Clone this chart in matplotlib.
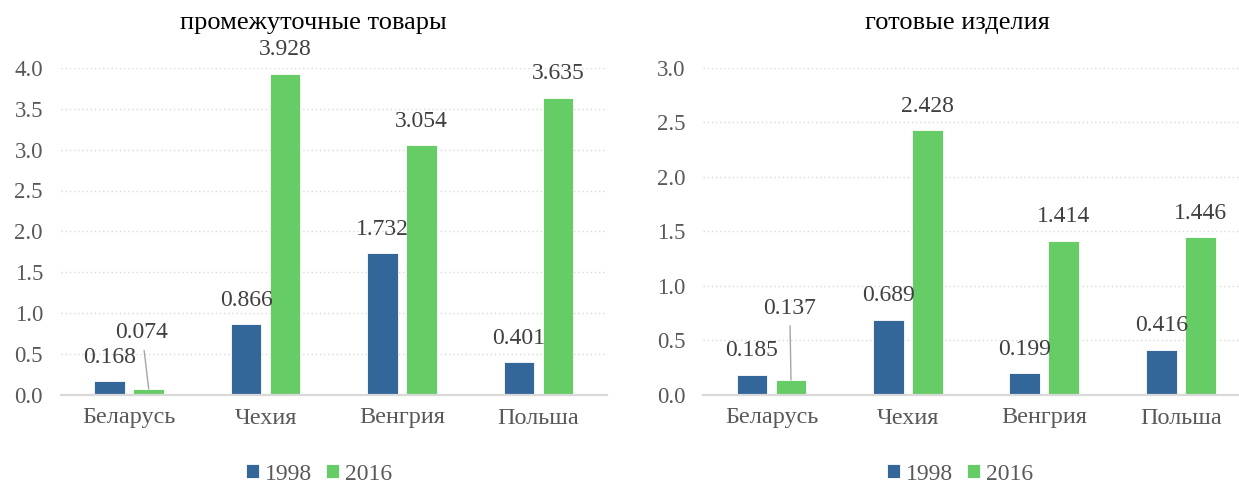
import matplotlib
matplotlib.use("Agg")
import matplotlib.pyplot as plt
import numpy as np

categories = ["Беларусь", "Чехия", "Венгрия", "Польша"]
years = ["1998", "2016"]
inter_1998 = [0.168, 0.866, 1.732, 0.401]
inter_2016 = [0.074, 3.928, 3.054, 3.635]
final_1998 = [0.185, 0.689, 0.199, 0.416]
final_2016 = [0.137, 2.428, 1.414, 1.446]
titles = ["промежуточные товары", "готовые изделия"]
y_ticks_left = [0.0, 0.5, 1.0, 1.5, 2.0, 2.5, 3.0, 3.5, 4.0]
y_ticks_right = [0.0, 0.5, 1.0, 1.5, 2.0, 2.5, 3.0]

plt.rcParams['font.family'] = ['Liberation Serif', 'DejaVu Serif']

BLUE = "#336699"
GREEN = "#66CC66"
GRID = "#D9D9D9"
TICK_C = "#595959"
LAB_C = "#404040"

W, H = 1239, 484
fig = plt.figure(figsize=(W / 100, H / 100), dpi=100)

def px_ax(x0, y_bottom, w, h):
    return fig.add_axes([x0 / W, 1 - y_bottom / H, w / W, h / H])

ax1 = px_ax(61, 395, 545.6, 327.2)
ax2 = px_ax(703.3, 395, 545.6, 327.2)

off = 0.143
bw = 0.225
x = np.arange(len(categories))

def draw(ax, v98, v16, ymax, yticks, title, title_x, leader):
    b1 = ax.bar(x - off, v98, bw, color=BLUE, edgecolor="white", linewidth=0.6, zorder=3, label=years[0])
    b2 = ax.bar(x + off, v16, bw, color=GREEN, edgecolor="white", linewidth=0.6, zorder=3, label=years[1])
    ax.set_xlim(-0.5, len(categories) - 0.5)
    ax.set_ylim(0, ymax)
    ax.set_yticks(yticks)
    ax.set_yticklabels([f"{t:.1f}" for t in yticks])
    ax.set_xticks(x)
    ax.set_xticklabels(categories)
    ax.tick_params(axis='y', length=0, pad=13, labelsize=16.5, labelcolor=TICK_C)
    ax.tick_params(axis='x', length=0, pad=9, labelsize=17.5, labelcolor=TICK_C)
    for s in ["top", "right", "left"]:
        ax.spines[s].set_visible(False)
    ax.spines["bottom"].set_color(GRID)
    ax.spines["bottom"].set_linewidth(1.6)
    ax.spines["bottom"].set_zorder(4)
    for t in yticks[1:]:
        ax.axhline(t, color=GRID, linewidth=1.0, linestyle=(0, (1, 2)), zorder=1)
    for series, vals in ((0, v98), (1, v16)):
        for i, v in enumerate(vals):
            xc = i + (off if series else -off)
            if (series, i) in leader:
                dx, dy = leader[(series, i)]
                ax.annotate(f"{v:.3f}", xy=(xc, v), xytext=(dx, dy), textcoords="offset points",
                            ha="center", va="center", fontsize=17, color=LAB_C,
                            arrowprops=dict(arrowstyle="-", color="#A6A6A6", lw=1.0,
                                            shrinkA=3, shrinkB=0), annotation_clip=False)
            else:
                ax.annotate(f"{v:.3f}", xy=(xc, v), xytext=(0, 17.3), textcoords="offset points",
                            ha="center", va="center", fontsize=17, color=LAB_C, annotation_clip=False)
    fig.text(title_x / W, 1 - 23 / H, title, ha="center", va="center", fontsize=19, color="black")
    return b1, b2

h1 = draw(ax1, inter_1998, inter_2016, 4.0, y_ticks_left, titles[0], 313, {(1, 0): (-4.8, 40.3)})
h2 = draw(ax2, final_1998, final_2016, 3.0, y_ticks_right, titles[1], 957, {(1, 0): (-0.9, 51.6)})

for handles, cx in ((h1, 319), (h2, 960)):
    fig.legend(handles, years, loc="center", bbox_to_anchor=(cx / W, 1 - 474 / H),
               ncol=2, frameon=False, fontsize=17, labelcolor=TICK_C,
               handlelength=0.55, handleheight=0.55, handletextpad=0.25, columnspacing=0.6,
               borderpad=0, borderaxespad=0)

fig.savefig("out.png", dpi=100)
